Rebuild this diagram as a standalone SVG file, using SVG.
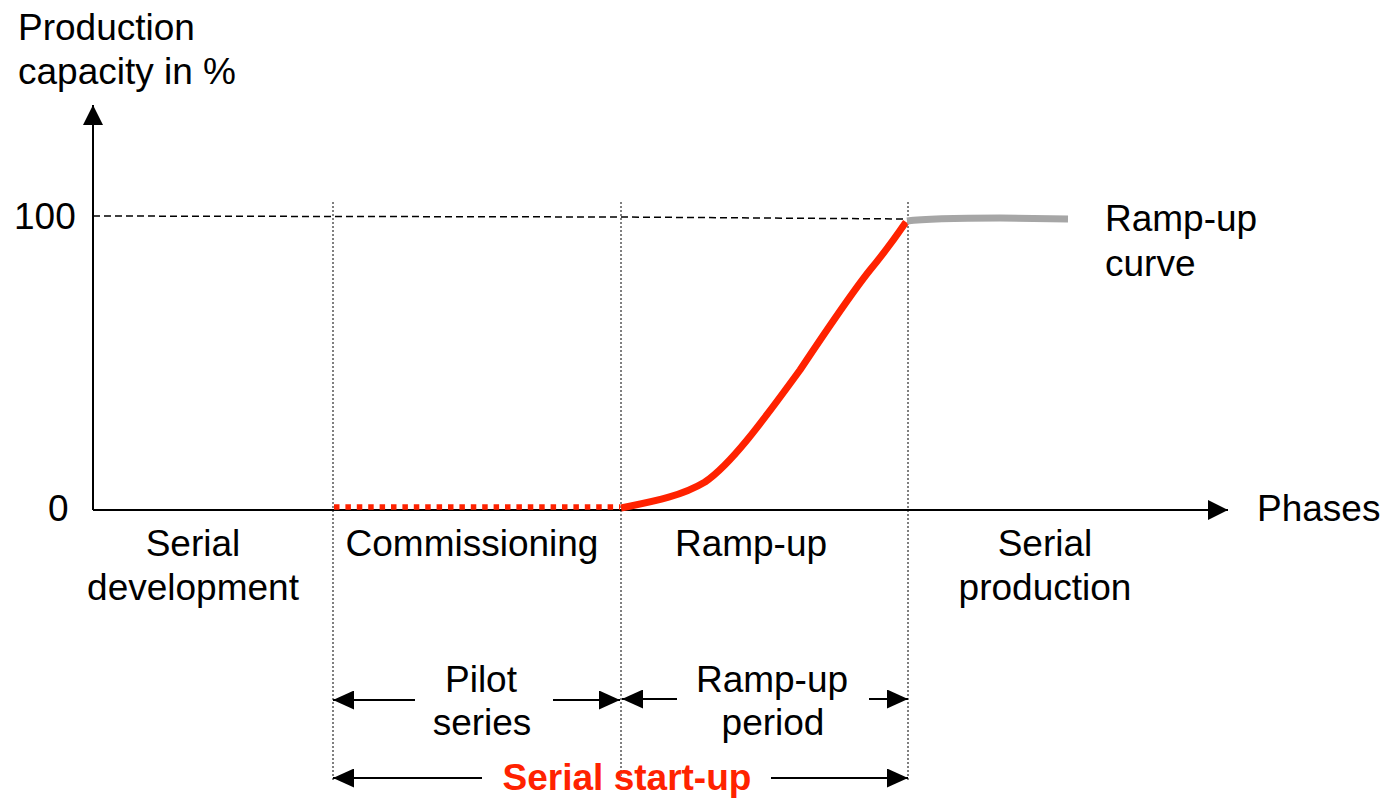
<svg xmlns="http://www.w3.org/2000/svg" width="1390" height="798" viewBox="0 0 1390 798">
  <defs>
    <marker id="tri" viewBox="0 0 20 20" refX="20" refY="10" markerWidth="20" markerHeight="20" markerUnits="userSpaceOnUse" orient="auto-start-reverse">
      <path d="M0,0 L20,10 L0,20 Z" fill="#000"/>
    </marker>
    <marker id="tri-s" viewBox="0 0 21 19" refX="21" refY="9.5" markerWidth="21" markerHeight="19" markerUnits="userSpaceOnUse" orient="auto-start-reverse">
      <path d="M0,0 L21,9.5 L0,19 Z" fill="#000"/>
    </marker>
  </defs>
  <style>
    text { font-family: "Liberation Sans", Arial, sans-serif; font-size: 37px; fill: #000; }
    .mid { text-anchor: middle; }
    .red { fill: #ff2200; font-weight: bold; }
    .axis { stroke: #000; stroke-width: 2; fill: none; }
    .guide { stroke: #000; stroke-width: 1.5; stroke-dasharray: 7 4; fill: none; }
    .divider { stroke: #000; stroke-width: 1; stroke-dasharray: 2 2; fill: none; }
    .span { stroke: #000; stroke-width: 2; fill: none; }
  </style>
  <rect width="1390" height="798" fill="#fff"/>

  <!-- axes -->
  <g id="axes">
    <line class="axis" x1="93" y1="510" x2="93" y2="105" marker-end="url(#tri)"/>
    <line class="axis" x1="93" y1="510" x2="1228" y2="510" marker-end="url(#tri)"/>
    <text x="18" y="40">Production</text>
    <text x="18" y="84">capacity in %</text>
    <text x="14" y="229">100</text>
    <text x="48" y="521">0</text>
    <text x="1257" y="521">Phases</text>
  </g>

  <!-- guide lines -->
  <g id="guides">
    <path class="guide" d="M93,216 L620,217 L907,219"/>
    <line class="divider" x1="333" y1="202" x2="333" y2="780"/>
    <line class="divider" x1="621" y1="202" x2="621" y2="780"/>
    <line class="divider" x1="908" y1="202" x2="908" y2="780"/>
  </g>

  <!-- ramp-up curve -->
  <g id="curve">
    <line x1="334" y1="507" x2="620" y2="507" stroke="#ff2200" stroke-width="5.5" stroke-dasharray="5.5 5.9"/>
    <path d="M621,508 C650,502 680,497 705,482 C730,465 760,425 800,370 C830,325 850,295 870,270 C885,252 895,238 906,222" fill="none" stroke="#ff2200" stroke-width="7" stroke-linejoin="round"/>
    <path d="M907,221 C930,218 960,218 1000,218 L1068,219" fill="none" stroke="#a6a6a6" stroke-width="7"/>
    <text x="1105" y="231">Ramp-up</text>
    <text x="1105" y="276">curve</text>
  </g>

  <!-- phase labels -->
  <g id="phase-serial-development">
    <text class="mid" x="193" y="556">Serial</text>
    <text class="mid" x="193" y="600">development</text>
  </g>
  <g id="phase-commissioning">
    <text class="mid" x="472" y="556">Commissioning</text>
  </g>
  <g id="phase-ramp-up">
    <text class="mid" x="751" y="556">Ramp-up</text>
  </g>
  <g id="phase-serial-production">
    <text class="mid" x="1045" y="556">Serial</text>
    <text class="mid" x="1045" y="600">production</text>
  </g>

  <!-- period spans -->
  <g id="span-pilot-series">
    <text class="mid" x="481" y="692">Pilot</text>
    <text class="mid" x="482" y="735">series</text>
  </g>
  <g id="span-ramp-up-period">
    <text class="mid" x="772" y="692">Ramp-up</text>
    <text class="mid" x="773" y="735">period</text>
  </g>
  <g id="span-serial-start-up">
    <text class="mid red" x="627" y="790">Serial start-up</text>
  </g>

  <g id="connectors">
    <line class="span" x1="415" y1="700" x2="333" y2="700" marker-end="url(#tri-s)"/>
    <line class="span" x1="553" y1="700" x2="620" y2="700" marker-end="url(#tri-s)"/>
    <line class="span" x1="677" y1="699" x2="622" y2="699" marker-end="url(#tri-s)"/>
    <line class="span" x1="869" y1="699" x2="908" y2="699" marker-end="url(#tri-s)"/>
    <line class="span" x1="482" y1="778" x2="333" y2="778" marker-end="url(#tri-s)"/>
    <line class="span" x1="771" y1="778" x2="908" y2="778" marker-end="url(#tri-s)"/>
  </g>
</svg>
